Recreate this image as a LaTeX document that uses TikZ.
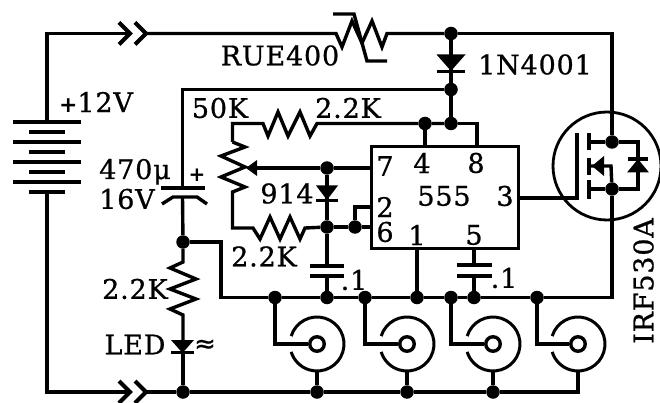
\documentclass[tikz,border=0pt]{standalone}
\usepackage{fontspec}
\setmainfont[LetterSpace=3,FakeBold=0.8]{DejaVu Serif}
\newfontfamily\symfont[FakeBold=0.8]{DejaVu Sans}
\newfontfamily\plusfont{DejaVu Sans Bold}
\tikzset{
  wire/.style={line width=3.4pt,line join=miter},
  thinwire/.style={line width=3pt,line join=miter},
  dot/.style={circle,fill=black,draw=none,minimum size=13.5pt,inner sep=0pt},
  lbl/.style={font=\fontsize{27}{27}\selectfont,inner sep=0pt,text=black},
  bncc/.style={circle,draw=black,line width=3.4pt,fill=white,minimum size=14.5pt,inner sep=0pt},
  solid tri/.style={fill=black,draw=none}
}
\begin{document}
\begin{tikzpicture}[x=1pt,y=-1pt]
\useasboundingbox[fill=white] (0,0) rectangle (660,403);
% rails
\coordinate (tl) at (47,33.5);
\coordinate (bl) at (47,392);
\coordinate (bat1) at (47,122);
\coordinate (bat8) at (47,192);
% junctions
\node[dot] (ja) at (451,33.5) {};
\node[dot] (jb) at (451,89.5) {};
\node[dot] (jc) at (451,123.5) {};
\node[dot] (jd) at (425,123.5) {};
\node[dot] (je) at (327,168) {};
\node[dot] (jf) at (327,227) {};
\node[dot] (jg) at (355,227) {};
\node[dot] (jh) at (183,242) {};
\node[dot] (g1) at (275,297.5) {};
\node[dot] (g2) at (327,297.5) {};
\node[dot] (g3) at (365,297.5) {};
\node[dot] (g4) at (417,297.5) {};
\node[dot] (g5) at (451,297.5) {};
\node[dot] (g6) at (474,297.5) {};
\node[dot] (g7) at (537,297.5) {};
\node[dot] (b0) at (183,392) {};
\node[dot] (b1) at (317,392) {};
\node[dot] (b2) at (407,392) {};
\node[dot] (b3) at (493,392) {};
\coordinate (b4) at (578,392);
% 555
\node[draw=black,line width=3.4pt,minimum width=147pt,minimum height=102pt,inner sep=0pt] (timer) at (445,197.5) {};
% battery
\foreach \yy in {122,142,162,182} \draw[wire] (13,\yy)--(81,\yy);
\foreach \yy in {132,152,172,192} \draw[wire] (29,\yy)--(65,\yy);
\draw[wire] (bat1)--(tl)--(130,33.5);
\draw[wire] (bat8)--(bl)--(130,392);
% chevrons
\foreach \yy in {33.5,392}{
  \draw[line width=4.2pt] (119,\yy-11)--(130,\yy)--(119,\yy+11);
  \draw[line width=4.2pt] (135,\yy-11)--(146,\yy)--(135,\yy+11);
}
% top rail + thermistor
\coordinate (th1) at (336,33.5);
\coordinate (th2) at (387,33.5);
\draw[wire] (146,33.5)--(th1)--(342,47)--(352,21)--(362,43)--(372,21)--(382,47)--(th2)--(ja);
\draw[wire] (333,14)--(354,14)--(367,61)--(387,61);
\coordinate (dr) at (612,33.5);
\node[dot] (md) at (612,142) {};
\node[dot] (ms) at (612,189) {};
\draw[wire] (ja)--(dr)--(md);
% 1N4001
\fill[solid tri] (436.5,54.5)--(465.5,54.5)--(451,71)--cycle;
\draw[wire] (437,71.5)--(465,71.5);
\draw[wire] (ja)--(jb)--(jc);
% 12V line to cap
\coordinate (cpt) at (182.5,188);
\draw[wire] (jb)--(182.5,89.5)--(cpt);
\draw[wire] (161,188)--(205,188);
\draw[wire] (162,204)--(173,197)--(197,197)--(207,204);
\draw[wire] (182.5,197)--(jh);
% top resistor
\coordinate (pt) at (232.5,123.5);
\draw[wire] (jc)--(jd)--(317,123.5)--(310,136)--(300,112)--(288,136)--(278,112)--(268,136)--(263,123.5)--(pt)--(232.5,142);
\draw[wire] (jc)--(477,123.5)--(477,146);
\draw[wire] (jd)--(425,146);
% pot
\draw[wire] (232.5,142)--(245,147)--(221,156)--(245,167)--(221,177)--(245,187)--(232.5,192)--(232.5,228)--(253,228)--(260,239)--(270,217)--(280,239)--(290,217)--(300,239)--(305,228)--(jf);
\fill[solid tri] (246,168)--(257,160)--(257,176)--cycle;
\draw[wire] (255,168)--(je)--(timer.west |- je);
% 914
\fill[solid tri] (316,185.5)--(338,185.5)--(327,200)--cycle;
\draw[wire] (316,200.5)--(338,200.5);
\draw[wire] (je)--(jf)--(327,266);
\draw[wire] (jf)--(jg)--(timer.west |- jg);
\draw[wire] (jg)--(355,207)--(timer.west |- 0,207);
\draw[wire] (310,266)--(344,266);
\draw[wire] (310,276)--(344,276);
\draw[wire] (327,276)--(g2);
% gnd rail
\draw[wire] (jh)--(221,242)--(221,297.5)--(g1)--(g2)--(g3)--(g4)--(g5)--(g6)--(g7)--(612,297.5)--(ms);
\draw[wire] (g4)--(timer.south -| g4);
\draw[wire] (g6)--(474,276);
\draw[wire] (457,276)--(492,276);
\draw[wire] (457,265)--(492,265);
\draw[wire] (474,265)--(timer.south -| g6);
% left resistor and LED
\draw[wire] (jh)--(183,262)--(170,268)--(196,279)--(170,289)--(196,299)--(170,309)--(183,315)--(183,341);
\fill[solid tri] (171,340)--(194,340)--(182.5,353)--cycle;
\draw[wire] (171,352.5)--(194,352.5);
\draw[wire] (183,352)--(b0);
\draw[wire] (146,392)--(b0)--(b1)--(b2)--(b3)--(b4)--(578,371);
% BNCs
\node[bncc] (c1) at (317,344) {};
\node[bncc] (c2) at (407,344) {};
\node[bncc] (c3) at (493,344) {};
\node[bncc] (c4) at (578,344) {};
\draw[wire] (g1)--(g1 |- c1)--(c1);
\draw[wire] (g3)--(g3 |- c2)--(c2);
\draw[wire] (g5)--(g5 |- c3)--(c3);
\draw[wire] (g7)--(g7 |- c4)--(c4);
\foreach \cc in {c1,c2,c3,c4}
  \draw[thinwire] (\cc) ++(-163:27) arc[start angle=-163,end angle=163,radius=27];
\draw[wire] (b1)--(317,371);
\draw[wire] (b2)--(407,371);
\draw[wire] (b3)--(493,371);
% MOSFET
\node[circle,draw=black,line width=2.8pt,minimum size=108pt,inner sep=0pt] (mos) at (607,166) {};
\draw[wire] (timer.east |- 0,198)--(577,198)--(577,133);
\draw[wire] (589,133)--(589,150);
\draw[wire] (589,158)--(589,175);
\draw[wire] (589,180)--(589,199);
\draw[wire] (589,142)--(md)--(638,142)--(638,189)--(ms)--(589,189);
\draw[wire] (589,166)--(611,166)--(ms);
\fill[solid tri] (592,166)--(604,156)--(604,176)--cycle;
\fill[solid tri] (638,159)--(649,172.5)--(627,172.5)--cycle;
\draw[wire] (628,159)--(648,159);
% labels
\node[lbl] (t1) at (280,55.5) {RUE400};
\node[lbl] (t2) at (535,64.5) {1N4001};
\node[lbl] (t3) at (96,102) {{\plusfont\fontsize{22}{22}\selectfont +}12V};
\node[lbl] (t4) at (220,108) {50K};
\node[lbl] (t5) at (348,108) {2.2K};
\node[lbl,anchor=base] (t6) at (135,179) {470μ};
\node[lbl] (t7) at (127,199) {16V};
\node[lbl,font=\plusfont\fontsize{20}{20}\selectfont] (t8) at (197,175.5) {+};
\node[lbl] (t9) at (287,193.5) {914};
\node[lbl] (t10) at (264,256.5) {2.2K};
\node[lbl] (t11) at (354,280) {.1};
\node[lbl] (t12) at (504,278) {.1};
\node[lbl] (t13) at (135,289) {2.2K};
\node[lbl] (t14) at (135,344.5) {LED};
\node[lbl,font=\symfont\fontsize{26}{26}\selectfont] (t15) at (205,346) {≈};
\node[lbl] (p7) at (385,166) {7};
\node[lbl] (p4) at (422,163) {4};
\node[lbl] (p8) at (476,163) {8};
\node[lbl] (tt) at (444,196) {555};
\node[lbl] (p3) at (505,196) {3};
\node[lbl] (p2) at (385,207) {2};
\node[lbl] (p6) at (385,232) {6};
\node[lbl] (p1) at (417,235) {1};
\node[lbl] (p5) at (474,235) {5};
\node[lbl,rotate=90] (t16) at (643.5,281) {IRF530A};
\end{tikzpicture}
\end{document}
